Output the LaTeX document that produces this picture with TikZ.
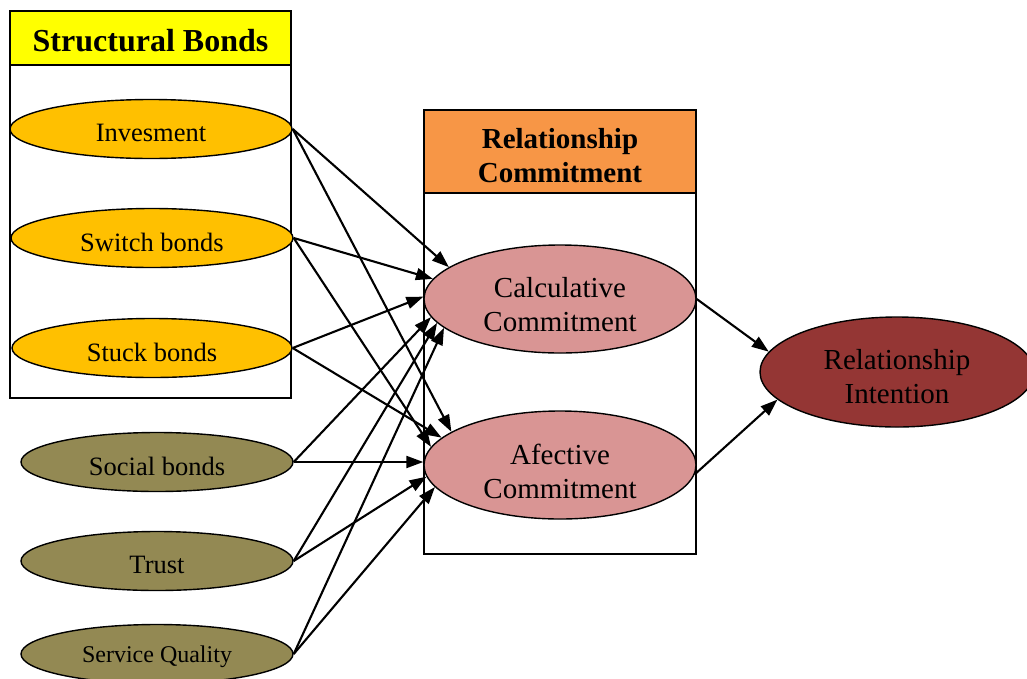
\documentclass[tikz,border=0pt]{standalone}
\usepackage{fontspec}
\setmainfont{Liberation Serif}
\usetikzlibrary{shapes.geometric,arrows.meta}
\definecolor{sbyellow}{HTML}{FFFF00}
\definecolor{sborange}{HTML}{FFC000}
\definecolor{rcorange}{HTML}{F79646}
\definecolor{pinkc}{HTML}{D99594}
\definecolor{olivec}{HTML}{938953}
\definecolor{darkredc}{HTML}{943634}
\tikzset{
  boxnode/.style={draw=black, line width=2pt, rectangle, inner sep=0pt},
  hdrtext/.style={font=\bfseries\fontsize{29}{34}\selectfont, align=center, inner sep=0pt},
  ell/.style={draw=black, line width=1.4pt, ellipse, inner sep=0pt},
  smallell/.style={ell, minimum height=59pt},
  bigell/.style={ell, minimum width=272pt, minimum height=108pt},
  smalltext/.style={font=\fontsize{26.5}{30}\selectfont, inner sep=0pt},
  bigtext/.style={font=\fontsize{29}{34}\selectfont, align=center, inner sep=0pt},
  arr/.style={-{Triangle[length=17pt,width=12pt]}, line width=2.1pt},
}
\begin{document}
\begin{tikzpicture}[x=1pt,y=-1pt]
\useasboundingbox (0,0) rectangle (1027,678);
\clip (0,0) rectangle (1027,678);
% Structural bonds group
\node[boxnode, fill=sbyellow, minimum width=281pt, minimum height=54pt] (sbh) at (150.5,38) {};
\node[hdrtext, font=\bfseries\fontsize{32}{36}\selectfont] (sbht) at ([yshift=-3pt]sbh.center) {Structural Bonds};
\node[boxnode, fill=white, minimum width=281pt, minimum height=333pt] (sbb) at (150.5,231.5) {};
\node[smallell, fill=sborange, minimum width=282pt] (inv) at (151,129) {};
\node[smallell, fill=sborange, minimum width=282pt] (swi) at (152,238) {};
\node[smallell, fill=sborange, minimum width=280pt] (stu) at (152,348) {};
\node[smalltext] (invt) at ([yshift=-4pt]inv.center) {Invesment};
\node[smalltext] (swit) at ([yshift=-4pt]swi.center) {Switch bonds};
\node[smalltext] (stut) at ([yshift=-4pt]stu.center) {Stuck bonds};
% Other antecedents
\node[smallell, fill=olivec, minimum width=272pt] (soc) at (157,462) {};
\node[smallell, fill=olivec, minimum width=272pt] (tru) at (157,561) {};
\node[smallell, fill=olivec, minimum width=272pt] (sq) at (157,654) {};
\node[smalltext] (soct) at ([yshift=-4pt]soc.center) {Social bonds};
\node[smalltext] (trut) at ([yshift=-4pt]tru.center) {Trust};
\node[smalltext, font=\fontsize{24}{28}\selectfont] (sqt) at ([yshift=-3pt]sq.center) {Service Quality};
% Relationship commitment group
\node[boxnode, fill=rcorange, minimum width=272pt, minimum height=83pt] (rch) at (560,151.5) {};
\node[hdrtext] (rcht) at ([yshift=-4pt]rch.center) {Relationship\\Commitment};
\node[boxnode, fill=white, minimum width=272pt, minimum height=361pt] (rcb) at (560,373.5) {};
\node[bigell, fill=pinkc] (calc) at (560,299) {};
\node[bigell, fill=pinkc] (afe) at (560,465) {};
\node[bigtext] (calct) at ([yshift=-6pt]calc.center) {Calculative\\Commitment};
\node[bigtext] (afet) at ([yshift=-6pt]afe.center) {Afective\\Commitment};
% Outcome
\node[bigell, fill=darkredc, minimum width=274pt, minimum height=110pt] (ri) at (897,372) {};
\node[bigtext] (rit) at ([yshift=-5pt]ri.center) {Relationship\\Intention};
% Arrows to Calculative
\draw[arr] (inv.east) -- (calc.164);
\draw[arr] (swi.east) -- (calc.171);
\draw[arr] (stu.east) -- (calc.179);
\draw[arr] (soc.east) -- (calc.188);
\draw[arr] (tru.east) -- (calc.191);
\draw[arr] (sq.east) -- (calc.194);
% Arrows to Afective
\draw[arr] (inv.east) -- (afe.163);
\draw[arr] (stu.east) -- (afe.167);
\draw[arr] (swi.east) -- (afe.172);
\draw[arr] (soc.east) -- (soc.east -| afe.west);
\draw[arr] (tru.east) -- (afe.185);
\draw[arr] (sq.east) -- (afe.190);
% Arrows to Relationship Intention
\draw[arr] (calc.east) -- (ri.171);
\draw[arr] (afe.-4) -- (ri.193);
\end{tikzpicture}
\end{document}
